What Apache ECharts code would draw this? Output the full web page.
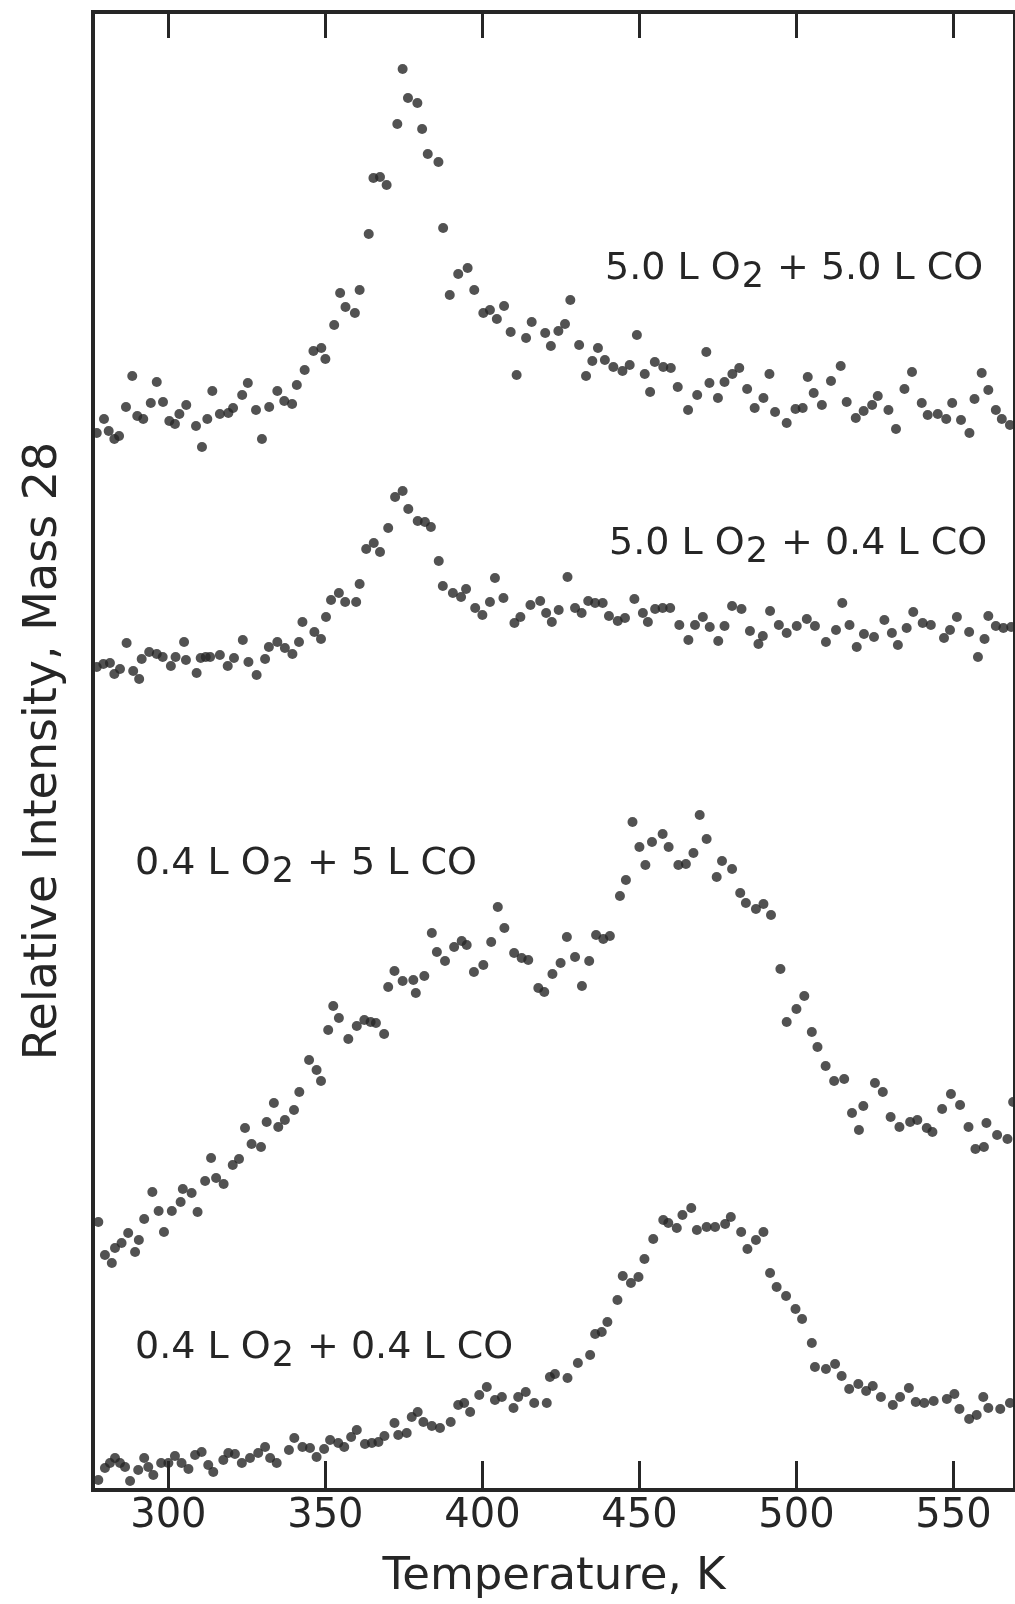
<!DOCTYPE html>
<html><head><meta charset="utf-8">
<script src="https://cdn.jsdelivr.net/npm/echarts@6/dist/echarts.min.js"></script>
<style>html,body{margin:0;padding:0;background:#fff}#c{width:1015px;height:1604px}</style>
</head><body><div id="c"></div>
<script>
// ---- data (Temperature K, relative intensity arb. units) ----
const xTickValues = [300, 350, 400, 450, 500, 550];
const xAxisTitle = 'Temperature, K';
const yAxisTitle = 'Relative Intensity, Mass 28';

const o2_50_co_50 = [[277.2,105.7],[279.5,107.1],[281.0,105.9],[282.8,105.1],[284.3,105.4],[286.5,108.3],[288.5,111.4],[290.1,107.4],[292.0,107.1],[294.4,108.7],[296.3,110.8],[298.3,108.8],[300.3,106.9],[302.1,106.6],[303.5,107.6],[305.7,108.5],[308.8,106.4],[310.7,104.3],[312.4,107.1],[314.0,109.9],[316.4,107.6],[319.1,107.7],[320.6,108.2],[323.5,109.5],[325.3,110.7],[327.9,108.0],[329.8,105.1],[332.1,108.3],[334.7,109.9],[336.9,108.9],[339.4,108.6],[340.9,110.5],[343.4,112.0],[346.2,113.9],[348.7,114.2],[350.0,113.1],[352.8,116.5],[354.7,119.7],[356.4,118.3],[359.4,117.7],[360.9,120.0],[363.8,125.6],[365.3,131.2],[367.4,131.3],[369.5,130.5],[372.9,136.6],[374.6,142.1],[376.3,139.2],[379.3,138.7],[380.8,136.1],[382.6,133.6],[386.0,132.8],[387.5,126.2],[389.6,119.5],[392.3,121.6],[395.3,122.2],[397.4,120.0],[400.3,117.7],[402.4,118.0],[404.6,117.1],[406.9,118.4],[409.0,115.8],[410.9,111.5],[413.9,115.2],[415.7,116.8],[420.0,115.7],[421.8,114.4],[424.2,115.9],[426.3,116.6],[428.0,119.0],[430.8,114.5],[433.0,111.4],[435.0,112.9],[436.8,114.2],[439.0,113.0],[441.7,112.3],[444.6,111.9],[446.9,112.5],[449.2,115.5],[451.7,111.6],[453.4,109.8],[454.9,112.8],[457.6,112.3],[460.0,112.2],[462.2,110.3],[465.5,108.0],[468.4,109.5],[471.3,113.8],[472.3,110.7],[475.0,109.2],[477.1,110.8],[479.6,111.6],[481.8,112.2],[484.3,110.1],[486.7,108.2],[489.5,109.2],[491.4,111.6],[493.2,107.8],[496.9,106.7],[499.7,108.1],[502.0,108.2],[503.6,111.3],[505.5,109.7],[508.1,108.5],[511.0,110.9],[514.1,112.4],[516.0,108.8],[518.9,107.2],[521.4,107.9],[524.1,108.5],[525.9,109.4],[529.3,108.0],[531.7,106.1],[534.4,110.1],[536.8,111.8],[539.9,108.7],[541.8,107.5],[545.0,107.6],[547.7,107.1],[549.6,108.7],[552.4,107.0],[555.1,105.7],[556.7,109.1],[559.0,111.7],[561.1,110.0],[563.5,108.0],[565.4,107.1],[568.0,106.5]];

const o2_50_co_04 = [[277.2,82.3],[279.3,82.6],[281.4,82.7],[282.8,81.6],[284.6,82.1],[286.7,84.7],[288.8,81.9],[290.7,81.1],[291.5,83.1],[293.9,83.8],[296.3,83.6],[298.2,83.3],[300.8,82.4],[302.3,83.3],[305.0,84.8],[305.6,83.0],[309.0,81.7],[310.3,83.2],[311.9,83.3],[313.3,83.3],[316.4,83.5],[318.9,82.4],[320.9,83.2],[323.7,85.0],[325.5,82.8],[328.1,81.5],[330.8,83.1],[332.0,84.3],[334.7,84.8],[337.1,84.2],[339.5,83.6],[341.6,84.8],[342.7,86.8],[346.5,85.8],[348.6,85.1],[350.2,87.3],[351.8,89.0],[354.3,89.7],[356.3,88.8],[359.8,88.8],[360.9,90.6],[363.0,94.1],[365.4,94.7],[367.4,93.8],[370.0,96.2],[372.2,99.3],[374.6,99.9],[376.4,98.1],[379.4,96.9],[381.7,96.8],[383.6,96.3],[386.1,92.9],[387.4,90.4],[390.6,89.7],[393.2,89.3],[394.8,90.1],[397.7,88.2],[400.0,87.5],[402.4,88.8],[404.0,91.2],[406.7,89.2],[410.2,86.7],[412.1,87.3],[415.3,88.5],[418.4,88.9],[420.3,87.7],[422.1,86.8],[424.3,88.0],[427.1,91.3],[429.5,88.2],[431.6,87.7],[433.7,88.9],[435.9,88.7],[438.3,88.7],[440.3,87.4],[443.1,86.9],[445.4,87.2],[448.4,89.1],[451.1,87.7],[452.7,86.8],[455.0,88.1],[457.4,88.2],[459.8,88.2],[462.7,86.5],[465.6,85.0],[467.7,86.5],[470.2,87.3],[472.4,86.3],[475.1,84.9],[477.1,86.4],[479.5,88.4],[482.5,88.1],[485.2,85.9],[487.9,84.6],[489.3,85.4],[491.6,87.9],[494.4,86.5],[496.9,85.7],[500.1,86.4],[503.3,87.1],[505.9,86.4],[509.4,84.8],[512.6,86.0],[514.6,88.7],[516.9,86.5],[519.2,84.3],[521.5,85.6],[524.7,85.3],[528.0,87.0],[530.4,85.7],[532.3,84.5],[535.1,86.2],[537.2,87.8],[540.2,86.7],[542.8,86.5],[547.0,85.2],[548.9,86.0],[551.1,87.3],[555.0,85.8],[557.8,83.3],[559.9,85.1],[561.1,87.4],[563.5,86.4],[565.9,86.2],[568.4,86.3]];

const o2_04_co_5 = [[277.7,26.8],[279.8,23.5],[282.0,22.7],[283.0,24.2],[285.1,24.7],[287.2,25.7],[289.4,23.8],[290.6,25.0],[292.3,27.1],[294.9,29.8],[296.9,27.9],[298.6,25.8],[301.1,27.9],[303.9,28.8],[304.6,30.1],[307.4,29.7],[309.3,27.8],[311.7,30.9],[313.6,33.2],[315.2,31.2],[317.6,30.6],[320.5,32.5],[322.5,33.1],[324.4,36.2],[326.5,34.6],[329.5,34.3],[331.3,36.8],[333.6,38.7],[335.0,36.3],[337.1,37.0],[340.0,38.0],[341.7,39.8],[344.8,43.0],[347.2,42.0],[348.6,40.9],[350.9,46.0],[352.5,48.4],[354.3,47.2],[357.3,45.1],[360.0,46.4],[362.4,47.0],[364.4,46.8],[366.1,46.7],[368.7,45.6],[370.0,50.3],[372.0,51.9],[374.6,50.9],[378.0,51.0],[378.8,49.7],[381.5,51.4],[383.9,55.7],[385.5,53.8],[388.1,52.9],[391.0,54.3],[393.4,54.9],[395.0,54.5],[397.3,51.8],[400.3,52.5],[402.8,54.8],[404.9,58.3],[407.0,56.2],[410.1,53.7],[412.5,53.2],[414.6,53.0],[417.8,50.2],[419.7,49.8],[422.3,51.6],[424.9,52.7],[426.9,55.3],[429.5,53.3],[431.7,50.4],[434.0,52.9],[436.2,55.5],[438.5,55.1],[440.6,55.4],[443.8,59.4],[445.7,61.0],[447.8,66.8],[450.0,64.3],[451.9,62.5],[454.0,64.8],[457.4,65.6],[459.3,64.3],[462.4,62.5],[464.8,62.6],[467.2,63.7],[469.2,67.5],[471.4,65.1],[474.6,61.3],[476.3,62.9],[479.5,62.1],[482.1,59.7],[483.9,58.7],[487.1,58.1],[489.5,58.6],[491.9,57.5],[494.9,52.1],[496.9,46.8],[500.0,48.1],[502.5,49.4],[504.9,45.8],[506.7,44.3],[509.3,42.4],[512.0,40.9],[515.2,41.1],[517.7,37.7],[519.9,36.0],[521.3,38.4],[525.0,40.7],[527.5,39.8],[530.0,37.3],[532.8,36.3],[536.2,36.8],[538.5,37.0],[541.5,36.2],[543.3,35.8],[546.4,38.1],[549.2,39.6],[552.1,38.5],[554.8,36.3],[557.0,34.1],[559.7,34.3],[560.5,36.7],[563.9,35.5],[567.2,35.1],[569.0,38.8]];

const o2_04_co_04 = [[277.7,1.0],[279.8,2.2],[281.4,2.7],[283.0,3.2],[284.6,2.7],[286.2,2.3],[287.8,0.9],[290.4,2.0],[292.3,3.2],[293.6,2.3],[295.2,1.5],[297.7,2.7],[300.0,2.7],[302.1,3.4],[304.2,2.7],[306.4,2.1],[308.5,3.5],[310.6,3.8],[312.7,2.5],[314.3,1.8],[317.5,3.0],[319.1,3.7],[321.2,3.6],[323.4,2.7],[326.0,3.2],[328.6,3.7],[330.8,4.3],[332.4,3.2],[334.5,2.7],[338.4,4.0],[340.1,5.2],[342.7,4.3],[345.1,4.2],[347.2,3.3],[349.6,4.1],[351.5,5.0],[354.1,4.7],[356.0,4.3],[358.2,5.3],[360.0,6.0],[362.6,4.6],[364.8,4.7],[366.9,4.8],[368.8,5.4],[372.0,6.7],[373.2,5.5],[375.9,5.7],[377.5,7.3],[379.4,7.8],[381.2,6.8],[383.9,6.4],[386.5,6.2],[389.9,6.8],[392.3,8.5],[394.2,8.7],[396.1,7.8],[399.0,9.5],[401.4,10.3],[404.0,9.0],[406.2,9.3],[409.9,8.2],[411.4,9.3],[413.8,9.8],[416.5,8.7],[420.5,8.7],[421.5,11.3],[423.1,11.6],[427.1,11.2],[430.4,12.7],[434.3,13.5],[435.9,15.6],[438.0,15.8],[439.8,16.8],[443.0,19.0],[444.7,21.4],[447.3,20.7],[449.7,21.3],[451.6,23.1],[454.4,25.1],[457.6,27.0],[459.2,26.7],[461.9,26.2],[463.7,27.5],[466.5,28.2],[468.3,26.0],[471.4,26.3],[474.1,26.3],[477.3,26.6],[479.1,27.3],[482.4,25.8],[484.4,24.1],[487.1,25.0],[489.5,25.8],[491.6,21.7],[493.7,20.3],[496.7,19.4],[499.7,18.1],[501.8,17.1],[504.9,14.7],[505.9,12.3],[509.4,12.1],[512.3,12.6],[514.4,11.4],[516.8,10.1],[519.7,10.6],[522.2,9.9],[524.3,10.4],[526.9,9.3],[530.7,8.5],[533.0,9.3],[535.8,10.2],[538.0,8.8],[540.7,8.7],[543.7,8.9],[547.9,9.1],[550.3,9.6],[551.9,8.1],[555.0,7.1],[557.4,7.5],[559.5,9.3],[561.1,8.2],[564.9,8.1],[568.0,8.7]];

const seriesLabels = [
  ['5.0 L O', '2', ' + 5.0 L CO'],
  ['5.0 L O', '2', ' + 0.4 L CO'],
  ['0.4 L O', '2', ' + 5 L CO'],
  ['0.4 L O', '2', ' + 0.4 L CO']
];

// ---- chart ----
const FONT = '"DejaVu Sans", sans-serif';
const INK = '#262626';
const DOT = '#272727';
const chart = echarts.init(document.getElementById('c'), null, {renderer: 'canvas'});

function dots(name, data) {
  return {type: 'scatter', name: name, data: data, xAxisIndex: 0, yAxisIndex: 0,
    symbol: 'circle', symbolSize: 10, itemStyle: {color: DOT}, silent: true};
}
const richStyle = {
  a: {fontFamily: FONT, fontSize: 38, lineHeight: 48, fill: INK, color: INK},
  s: {fontFamily: FONT, fontSize: 35, lineHeight: 48, fill: INK, color: INK, padding: [17, 1, 0, 1]}
};
function labelText(parts) { return '{a|' + parts[0] + '}{s|' + parts[1] + '}{a|' + parts[2] + '}'; }
const labelPos = [[605, 269], [609, 544], [135, 864], [135, 1348]];

chart.setOption({
  animation: false,
  backgroundColor: '#ffffff',
  grid: {left: 93, right: 0, top: 12, bottom: 114, show: true, borderColor: INK, borderWidth: 4,
    backgroundColor: 'transparent', outerBoundsMode: 'none', containLabel: false},
  xAxis: [{
    type: 'value', position: 'bottom', min: 276, max: 569.6,
    axisLine: {show: false},
    axisTick: {show: true, inside: true, length: 29, customValues: xTickValues, lineStyle: {color: INK, width: 3}},
    axisLabel: {show: true, customValues: xTickValues, margin: 7, fontFamily: FONT, fontSize: 40, color: INK},
    splitLine: {show: false},
    name: xAxisTitle, nameLocation: 'middle', nameGap: 65,
    nameTextStyle: {fontFamily: FONT, fontSize: 45, color: INK}
  }, {
    type: 'value', position: 'top', min: 276, max: 569.6,
    axisLine: {show: false},
    axisTick: {show: true, inside: true, length: 26, customValues: xTickValues, lineStyle: {color: INK, width: 3}},
    axisLabel: {show: false}, splitLine: {show: false}
  }],
  yAxis: {
    type: 'value', min: 0, max: 147.8,
    axisLine: {show: false}, axisTick: {show: false}, axisLabel: {show: false}, splitLine: {show: false},
    name: yAxisTitle, nameLocation: 'middle', nameGap: 26,
    nameTextStyle: {fontFamily: FONT, fontSize: 46, color: INK}
  },
  series: [
    dots('5.0 L O2 + 5.0 L CO', o2_50_co_50),
    dots('5.0 L O2 + 0.4 L CO', o2_50_co_04),
    dots('0.4 L O2 + 5 L CO', o2_04_co_5),
    dots('0.4 L O2 + 0.4 L CO', o2_04_co_04)
  ],
  graphic: seriesLabels.map(function (p, i) {
    return {type: 'text', x: labelPos[i][0], y: labelPos[i][1], silent: true,
      style: {text: labelText(p), rich: richStyle, align: 'left', verticalAlign: 'middle', fill: INK,
        fontFamily: FONT, fontSize: 38}};
  })
});
</script></body></html>
